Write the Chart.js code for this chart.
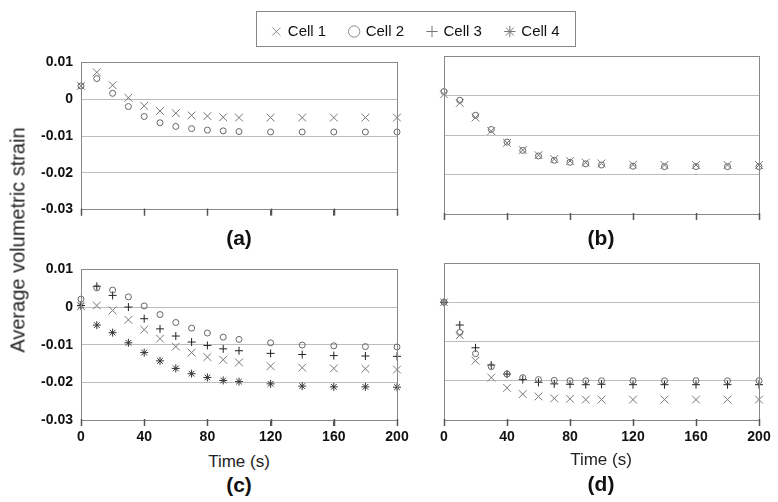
<!DOCTYPE html>
<html>
<head>
<meta charset="utf-8">
<script src="https://cdn.jsdelivr.net/npm/chart.js@4.4.0/dist/chart.umd.min.js"></script>
<style>
  body { margin: 0; background: #fff; font-family: Arial, "Liberation Sans", sans-serif; }
  #wrap { position: relative; width: 778px; height: 502px; overflow: hidden; }
  canvas { position: absolute; }
  .lbl { position: absolute; transform: translate(-50%, -50%); white-space: nowrap; color: #111; }
  .panel { font-weight: bold; font-size: 21px; }
  .xt { font-size: 17px; color: #222; }
  #ytitle { position: absolute; left: 18px; top: 240px; transform: translate(-50%, -50%) rotate(-90deg);
            font-size: 20px; white-space: nowrap; color: #222; }
  #legbox { position: absolute; left: 256px; top: 11px; width: 318px; height: 34px; border: 1.5px solid #888; }
</style>
</head>
<body>
<div id="wrap">
  <div id="legbox"></div>
  <canvas id="leg" width="500" height="80" style="left:166px;top:0px"></canvas>
  <canvas id="ca" width="412" height="180" style="left:0px;top:46px"></canvas>
  <canvas id="cb" width="378" height="180" style="left:400px;top:46px"></canvas>
  <canvas id="cc" width="412" height="195" style="left:0px;top:253px"></canvas>
  <canvas id="cd" width="378" height="195" style="left:400px;top:253px"></canvas>
  <div id="ytitle">Average volumetric strain</div>
  <div class="lbl panel" style="left:239px;top:238px">(a)</div>
  <div class="lbl panel" style="left:601px;top:238px">(b)</div>
  <div class="lbl xt" style="left:239px;top:462px">Time (s)</div>
  <div class="lbl xt" style="left:601px;top:460px">Time (s)</div>
  <div class="lbl panel" style="left:239px;top:485px">(c)</div>
  <div class="lbl panel" style="left:601px;top:484px">(d)</div>
</div>
<script>
// valores
const times = [0, 10, 20, 30, 40, 50, 60, 70, 80, 90, 100, 120, 140, 160, 180, 200];
const xTicks = [0, 40, 80, 120, 160, 200];
const yTicks = [0.01, 0, -0.01, -0.02, -0.03];
const cellNames = ['Cell 1', 'Cell 2', 'Cell 3', 'Cell 4'];

// panel (a)
const a1 = [0.0036, 0.0073, 0.0038, 0.0004, -0.0018, -0.0032, -0.0038, -0.0044, -0.0046, -0.0049, -0.005, -0.005, -0.005, -0.005, -0.005, -0.005];
const a2 = [0.0036, 0.0056, 0.0016, -0.002, -0.0047, -0.0064, -0.0074, -0.008, -0.0084, -0.0086, -0.0088, -0.0089, -0.0089, -0.0089, -0.0089, -0.0089];
// panel (b)
const b1 = [0.0003, -0.0019, -0.0056, -0.009, -0.012, -0.0138, -0.0151, -0.0161, -0.0166, -0.017, -0.0172, -0.0175, -0.0176, -0.0176, -0.0176, -0.0176];
const b2 = [0.001, -0.0012, -0.005, -0.0086, -0.0118, -0.0139, -0.0153, -0.0164, -0.0169, -0.0173, -0.0176, -0.0179, -0.018, -0.018, -0.018, -0.018];
// panel (c)
const c1 = [0.0002, 0.0004, -0.0009, -0.0034, -0.006, -0.0084, -0.0105, -0.0121, -0.0133, -0.014, -0.0147, -0.0157, -0.0161, -0.0163, -0.0164, -0.0166];
const c2 = [0.0021, 0.0051, 0.0045, 0.0027, 0.0003, -0.002, -0.0041, -0.0056, -0.0069, -0.008, -0.0086, -0.0095, -0.0101, -0.0103, -0.0105, -0.0106];
const c3 = [0.0004, 0.0055, 0.0031, 0, -0.0031, -0.0058, -0.0077, -0.0093, -0.0102, -0.0111, -0.0116, -0.0123, -0.0126, -0.0129, -0.013, -0.0131];
const c4 = [0.0004, -0.0048, -0.0068, -0.0095, -0.0121, -0.0143, -0.0163, -0.0177, -0.0187, -0.0195, -0.0198, -0.0204, -0.021, -0.0212, -0.0212, -0.0213];
// panel (d)
const d1 = [0, -0.0084, -0.0149, -0.0192, -0.0218, -0.0234, -0.024, -0.0245, -0.0246, -0.0248, -0.0248, -0.0248, -0.0248, -0.0248, -0.0248, -0.0248];
const d2 = [0, -0.0077, -0.0131, -0.0164, -0.0183, -0.0192, -0.0197, -0.0199, -0.02, -0.02, -0.02, -0.02, -0.02, -0.02, -0.02, -0.02];
const d3 = [0, -0.0058, -0.0116, -0.016, -0.0183, -0.0197, -0.0204, -0.0208, -0.0209, -0.021, -0.0209, -0.021, -0.021, -0.021, -0.021, -0.021];

// estilo de cada celda
const markers = [
  { style: 'crossRot', r: 5.5, color: '#777' },
  { style: 'circle', r: 3, color: '#666' },
  { style: 'cross', r: 4, color: '#222' },
  { style: 'star', r: 4, color: '#333' }
];

const tickFont = { family: 'Arial, "Liberation Sans"', size: 14, weight: 'bold' };

// marco completo y marcas del eje x
const frame = {
  id: 'frame',
  afterDraw(chart) {
    const { ctx, chartArea: a } = chart;
    const xs = chart.scales.x;
    ctx.save();
    ctx.strokeStyle = '#888';
    ctx.lineWidth = 1;
    ctx.strokeRect(Math.round(a.left) + 0.5, Math.round(a.top) + 0.5, Math.round(a.right - a.left), Math.round(a.bottom - a.top));
    ctx.strokeStyle = '#555';
    ctx.lineWidth = 1.5;
    xTicks.forEach(v => {
      const px = Math.round(xs.getPixelForValue(v)) + 0.5;
      ctx.beginPath();
      ctx.moveTo(px, a.bottom - 1);
      ctx.lineTo(px, a.bottom + 6);
      ctx.stroke();
    });
    ctx.restore();
  }
};

function serie(idx, vals) {
  const m = markers[idx];
  return {
    label: cellNames[idx],
    data: times.map((t, i) => ({ x: t, y: vals[i] })),
    pointStyle: m.style,
    pointRadius: m.r,
    borderColor: m.color,
    backgroundColor: 'rgba(0,0,0,0)',
    borderWidth: 1,
    showLine: false,
    clip: false
  };
}

function panel(id, datasets, showY, showX, yw, xh, padRight) {
  return new Chart(document.getElementById(id), {
    type: 'scatter',
    data: { datasets: datasets },
    options: {
      responsive: false,
      animation: false,
      devicePixelRatio: 1,
      layout: { padding: { top: 10, right: padRight, left: 0, bottom: 0 } },
      plugins: { legend: { display: false }, tooltip: { enabled: false } },
      scales: {
        x: {
          type: 'linear', min: 0, max: 200,
          afterBuildTicks: s => { s.ticks = xTicks.map(v => ({ value: v })); },
          afterFit: s => { s.height = xh; },
          grid: { drawOnChartArea: false, drawTicks: true, tickLength: 6, color: '#555' },
          border: { color: '#888' },
          ticks: { display: showX, padding: 3, font: tickFont, color: '#111', maxRotation: 0 }
        },
        y: {
          type: 'linear', min: -0.03, max: 0.01,
          afterBuildTicks: s => { s.ticks = yTicks.map(v => ({ value: v })); },
          afterFit: s => { s.width = yw; },
          grid: { drawTicks: false, color: '#bdbdbd' },
          border: { color: '#888' },
          ticks: { display: showY, padding: 8, font: tickFont, color: '#111',
                   callback: v => (v === 0 ? '0' : v.toFixed(2)) }
        }
      }
    },
    plugins: [frame]
  });
}

panel('ca', [serie(0, a1), serie(1, a2)], true, false, 81, 12, 15);
panel('cb', [serie(0, b1), serie(1, b2)], false, false, 44, 12, 19);
panel('cc', [serie(0, c1), serie(1, c2), serie(2, c3), serie(3, c4)], true, true, 81, 28, 15);
panel('cd', [serie(0, d1), serie(1, d2), serie(2, d3)], false, true, 44, 28, 19);

// leyenda comun
new Chart(document.getElementById('leg'), {
  type: 'scatter',
  data: { datasets: cellNames.map((n, i) => ({ label: n, data: [], pointStyle: markers[i].style, borderColor: i < 2 ? '#888' : '#777', backgroundColor: 'rgba(0,0,0,0)', borderWidth: 1 })) },
  options: {
    responsive: false,
    animation: false,
    devicePixelRatio: 1,
    scales: { x: { display: false }, y: { display: false } },
    plugins: {
      tooltip: { enabled: false },
      legend: {
        position: 'top',
        labels: { usePointStyle: true, boxWidth: 8, boxHeight: 8, padding: 24, color: '#111',
                  font: { family: 'Arial, "Liberation Sans"', size: 15 } }
      }
    }
  }
});
</script>
</body>
</html>
